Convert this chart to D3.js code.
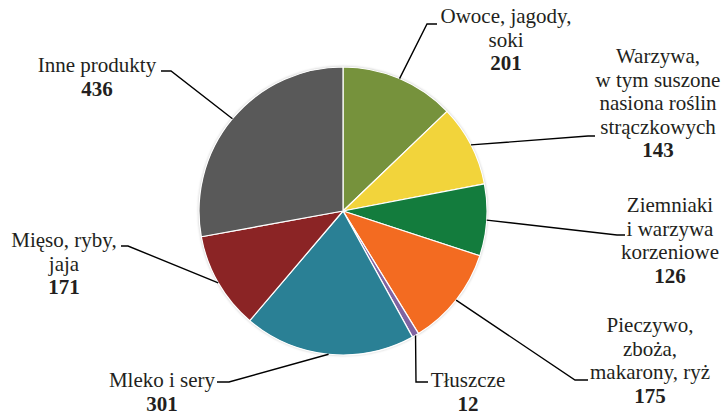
<!DOCTYPE html>
<html>
<head>
<meta charset="utf-8">
<script src="https://cdn.jsdelivr.net/npm/d3@7/dist/d3.min.js"></script>
<style>
  html, body { margin: 0; padding: 0; background: #fff; }
  svg { display: block; }
</style>
</head>
<body>
<svg id="chart" width="724" height="416"></svg>
<script>
// ---- data ----
const categories = [
  ["Owoce, jagody,", "soki"],
  ["Warzywa,", "w tym suszone", "nasiona roślin", "strączkowych"],
  ["Ziemniaki", "i warzywa", "korzeniowe"],
  ["Pieczywo,", "zboża,", "makarony, ryż"],
  ["Tłuszcze"],
  ["Mleko i sery"],
  ["Mięso, ryby,", "jaja"],
  ["Inne produkty"]
];
const values = [201, 143, 126, 175, 12, 301, 171, 436];
const colors = ["#76923c", "#f2d43b", "#137c3d", "#f36b21", "#7f63a1", "#2a8095", "#8b2425", "#595959"];

// ---- layout (label positions, leader elbows) ----
const labelPos = [
  {x: 506, y: 23,  elbow: [427, 24],  end: [437, 24]},
  {x: 658, y: 63,  elbow: [588, 136], end: [595, 136]},
  {x: 670, y: 212, elbow: [617, 235], end: [625, 235]},
  {x: 650, y: 332, elbow: [575, 380], end: [588, 380]},
  {x: 468, y: 387, elbow: [416, 382], end: [428, 382]},
  {x: 162, y: 387, elbow: [229, 382], end: [217, 382]},
  {x: 64,  y: 247, elbow: [128, 246], end: [121, 246]},
  {x: 97,  y: 72,  elbow: [171, 71],  end: [161, 71]}
];

const cx = 343, cy = 211, R = 144;
const lineH = 23.5;
const fontSize = 21;
const fontFamily = "Liberation Serif, DejaVu Serif, Noto Serif, serif";

const svg = d3.select("#chart");
const defs = svg.append("defs");
const f = defs.append("filter").attr("id", "sh").attr("x", "-10%").attr("y", "-10%").attr("width", "120%").attr("height", "120%");
f.append("feDropShadow").attr("dx", 0).attr("dy", 0).attr("stdDeviation", 1.6).attr("flood-color", "#000").attr("flood-opacity", 0.35);

const data = values.map((v, i) => ({v, i}));
const pie = d3.pie().value(d => d.v).sort(null).startAngle(0).endAngle(2 * Math.PI);
const arcs = pie(data);
const arc = d3.arc().innerRadius(0).outerRadius(R);

const g = svg.append("g").attr("transform", `translate(${cx},${cy})`);
g.append("circle").attr("r", R).attr("fill", "#fff").attr("filter", "url(#sh)");
g.selectAll("path.slice").data(arcs).join("path")
  .attr("class", "slice")
  .attr("d", arc)
  .attr("fill", d => colors[d.data.i])
  .attr("stroke", "#fff")
  .attr("stroke-width", 1.2)
  .attr("stroke-linejoin", "round");

// leaders
const leaders = svg.append("g");
arcs.forEach(a => {
  const i = a.data.i;
  const mid = (a.startAngle + a.endAngle) / 2;
  const sx = cx + R * Math.sin(mid);
  const sy = cy - R * Math.cos(mid);
  const lp = labelPos[i];
  leaders.append("path")
    .attr("d", d3.line()([[sx, sy], lp.elbow, lp.end]))
    .attr("fill", "none")
    .attr("stroke", "#000")
    .attr("stroke-width", 1.4);
});

// labels
const labels = svg.append("g");
categories.forEach((lines, i) => {
  const lp = labelPos[i];
  const t = labels.append("text")
    .attr("text-anchor", "middle")
    .style("font-family", fontFamily)
    .attr("fill", "#231f20")
    .attr("font-size", fontSize);
  lines.forEach((ln, k) => {
    t.append("tspan").attr("x", lp.x).attr("y", lp.y + k * lineH).text(ln);
  });
  t.append("tspan").attr("x", lp.x).attr("y", lp.y + lines.length * lineH)
    .attr("font-weight", "bold").text(values[i]);
});
</script>
</body>
</html>
